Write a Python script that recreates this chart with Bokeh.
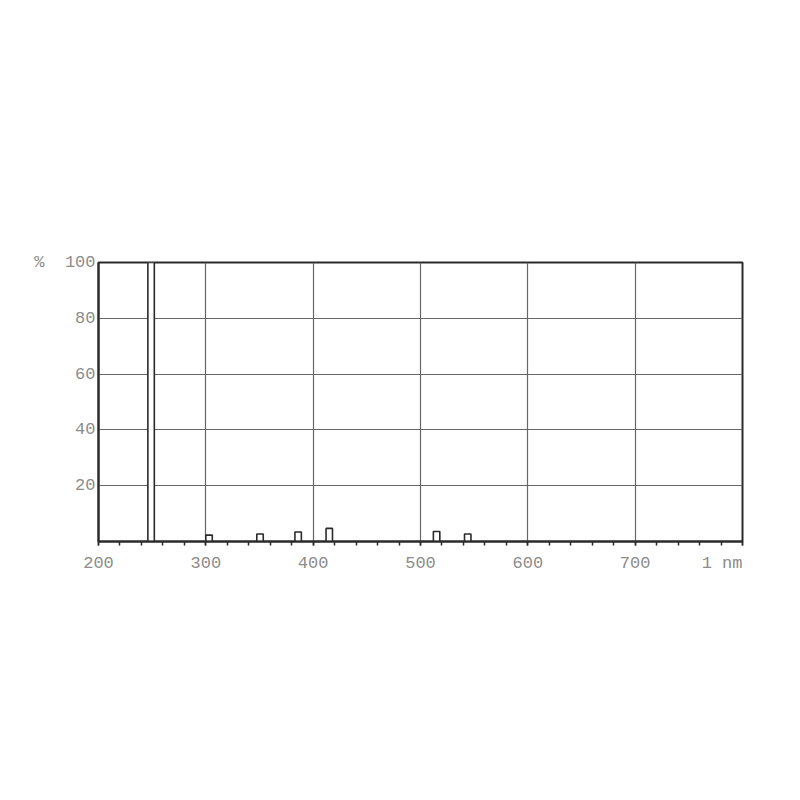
from bokeh.plotting import figure
from bokeh.models import Range1d, SingleIntervalTicker, FixedTicker, ColumnDataSource
from bokeh.embed import file_html
from bokeh.resources import INLINE

# Data
wavelengths = [249, 303, 350.5, 386, 415, 515, 544]
values = [100, 2.3, 2.7, 3.4, 4.7, 3.6, 2.7]
bar_width = 6
x_tick_labels = {200: "200", 300: "300", 400: "400", 500: "500", 600: "600", 700: "700",
                 800: "1 nm\u00a0\u00a0\u00a0\u00a0"}
y_ticks = [20, 40, 60, 80, 100]
y_tick_labels = {20: "20", 40: "40", 60: "60", 80: "80", 100: "%\u00a0\u00a0100"}

src = ColumnDataSource(dict(
    left=[w - bar_width / 2 for w in wavelengths],
    right=[w + bar_width / 2 for w in wavelengths],
    top=values,
    bottom=[0] * len(values),
))

FONT = "Liberation Mono"
LBL = "#8c8c8c"
DARK = "#2a2a2a"

p = figure(width=784, height=784, output_backend="svg", toolbar_location=None,
           x_range=Range1d(200, 800), y_range=Range1d(0, 100),
           min_border_left=98, min_border_right=42, min_border_top=262, min_border_bottom=243)
p.background_fill_color = "white"
p.border_fill_color = "white"
p.outline_line_color = DARK
p.outline_line_width = 2

p.quad(left="left", right="right", top="top", bottom="bottom", source=src,
       fill_color="white", line_color=DARK, line_width=1.6)

# x axis
p.xaxis.ticker = SingleIntervalTicker(interval=100, num_minor_ticks=5)
p.xaxis.major_label_overrides = x_tick_labels
p.xaxis.axis_line_color = DARK
p.xaxis.axis_line_width = 2
p.xaxis.major_tick_in = 0
p.xaxis.major_tick_out = 4
p.xaxis.minor_tick_in = 0
p.xaxis.minor_tick_out = 4
p.xaxis.major_tick_line_color = DARK
p.xaxis.minor_tick_line_color = DARK
p.xaxis.major_tick_line_width = 1.5
p.xaxis.minor_tick_line_width = 1.5
p.xaxis.major_label_standoff = 8
p.xaxis.major_label_text_font = FONT
p.xaxis.major_label_text_font_size = "17px"
p.xaxis.major_label_text_color = LBL

# y axis
p.yaxis.ticker = FixedTicker(ticks=y_ticks)
p.yaxis.major_label_overrides = y_tick_labels
p.yaxis.axis_line_color = DARK
p.yaxis.axis_line_width = 2
p.yaxis.major_tick_in = 0
p.yaxis.major_tick_out = 0
p.yaxis.minor_tick_line_color = None
p.yaxis.major_label_standoff = 3
p.yaxis.major_label_text_font = FONT
p.yaxis.major_label_text_font_size = "17px"
p.yaxis.major_label_text_color = LBL

# grid
p.xgrid.ticker = FixedTicker(ticks=[300, 400, 500, 600, 700])
p.ygrid.ticker = FixedTicker(ticks=[20, 40, 60, 80])
p.grid.grid_line_color = "#666666"
p.grid.grid_line_width = 1.2

open("out.html", "w").write(file_html(p, INLINE))
